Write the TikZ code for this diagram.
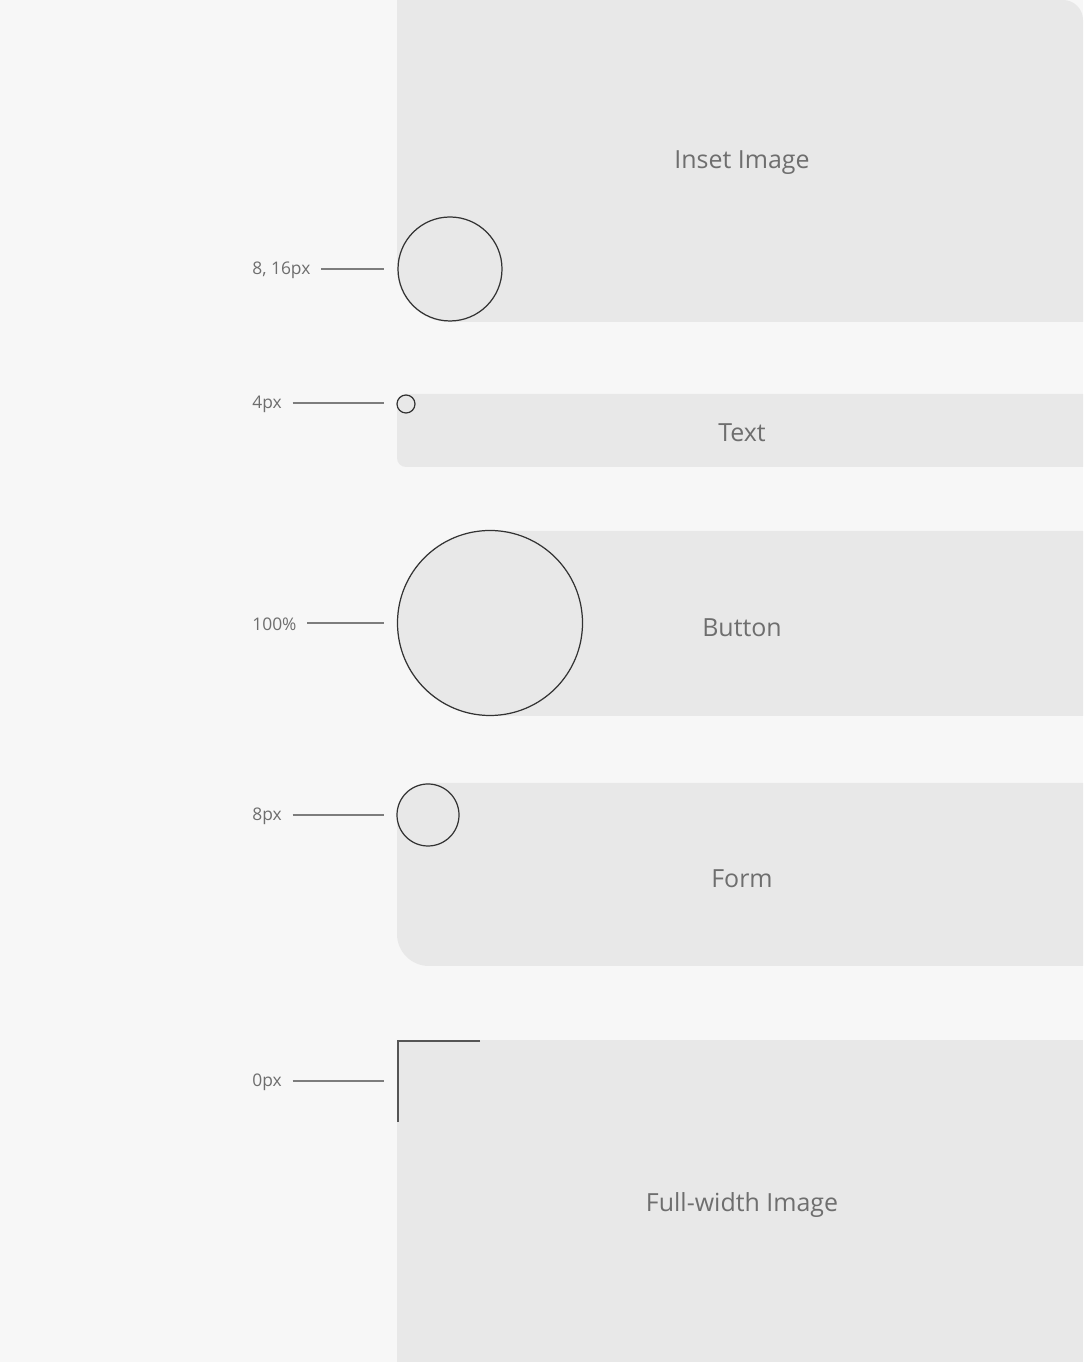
\documentclass[tikz,border=0pt]{standalone}
\usepackage{fontspec}
\setmainfont{Open Sans}
\definecolor{pagebg}{HTML}{F7F7F7}
\definecolor{panelgray}{HTML}{E8E8E8}
\definecolor{titlegray}{HTML}{6E6E6E}
\definecolor{inkgray}{HTML}{333333}
\definecolor{markgray}{HTML}{555555}
\tikzset{
  panel/.style={fill=panelgray},
  title/.style={text=titlegray, font=\fontsize{14.2}{16}\selectfont},
  radiuslabel/.style={text=titlegray, font=\fontsize{9.9}{11}\selectfont, anchor=west, inner sep=0pt},
  leader/.style={draw=titlegray!90, line width=0.7pt},
  cornerline/.style={draw=inkgray, line width=0.7pt},
}
\begin{document}
\begin{tikzpicture}[x=0.02cm, y=0.02cm]
        \fill[pagebg] (0,0) rectangle (1083,1362);
        \useasboundingbox (0,0) rectangle (1083,1362);
        % panels
        \fill[panel] (397,1362) -- (1063,1362) arc[start angle=90, end angle=0, radius=20] -- (1083,1040) -- (450,1040) arc[start angle=270, end angle=180, radius=53] -- cycle;
        \fill[panel] (1083,968) -- (406,968) arc[start angle=90, end angle=180, radius=9] -- (397,904) arc[start angle=180, end angle=270, radius=9] -- (1083,895) -- cycle;
        \fill[panel] (1083,831) -- (489.5,831) arc[start angle=90, end angle=270, radius=92.5] -- (1083,646) -- cycle;
        \fill[panel] (1083,579) -- (429,579) arc[start angle=90, end angle=180, radius=32] -- (397,428) arc[start angle=180, end angle=270, radius=32] -- (1083,396) -- cycle;
        \fill[panel] (397,0) rectangle (1083,322);
        % titles
        \node[title] (inset) at (742,1199) {Inset Image};
        \node[title] (text) at (742,929) {Text};
        \node[title] (button) at (742,734) {Button};
        \node[title] (form) at (742,483) {Form};
        \node[title] (full) at (742,157) {Full-width Image};
        % corner marks
        \draw[cornerline] (450,1093) circle[radius=52];
        \draw[cornerline] (406,958) circle[radius=9];
        \draw[cornerline] (490,739) circle[radius=92.5];
        \draw[cornerline] (428,547) circle[radius=31];
        \draw[cornerline, draw=markgray, line width=1pt] (480,321) -- (397.7,321) -- (397.7,240);
        % radius labels
        \foreach \name/\y/\txt in {ri/1093/{8, 16px}, rt/959/4px, rb/739/100\%, rf/547/8px, rw/281/0px}
        {%
            \node[radiuslabel] (\name) at (252,\y-1.5) {\txt};
            \coordinate (\name-end) at (384,\y);
            \draw[leader] ([xshift=6]\name.east |- \name-end) -- (\name-end);
        }%
    \end{tikzpicture}
\end{document}
